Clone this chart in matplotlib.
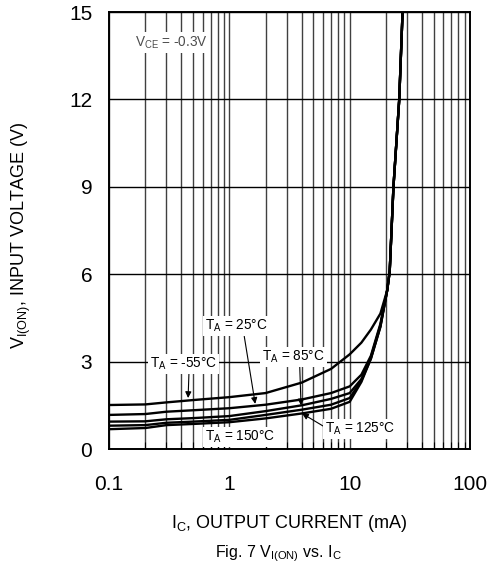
import numpy as np
import matplotlib
matplotlib.use("Agg")
import matplotlib.pyplot as plt
from matplotlib.ticker import LogLocator, NullFormatter

plt.rcParams['font.family'] = ['Liberation Sans', 'DejaVu Sans']
plt.rcParams['mathtext.fontset'] = 'custom'
plt.rcParams['mathtext.rm'] = 'Liberation Sans'
plt.rcParams['mathtext.it'] = 'Liberation Sans:italic'

# output current (mA), shared by all curves
ic = [0.1, 0.2, 0.3, 0.5, 1, 2, 4, 7, 10, 12.5, 15, 18, 20.5, 21.5, 23.1, 25.8, 27.5]

# input voltage V_I(ON) (V) per ambient temperature
v_m55 = [1.51, 1.53, 1.60, 1.68, 1.78, 1.92, 2.28, 2.75, 3.25, 3.65, 4.10, 4.65, 5.45, 6.1, 9, 12, 15]
v_25 = [1.17, 1.20, 1.28, 1.33, 1.40, 1.52, 1.70, 1.92, 2.15, 2.55, 3.20, 4.30, 5.45, 6.1, 9, 12, 15]
v_85 = [0.94, 0.95, 1.02, 1.06, 1.13, 1.30, 1.50, 1.72, 1.92, 2.40, 3.15, 4.25, 5.45, 6.1, 9, 12, 15]
v_125 = [0.80, 0.82, 0.90, 0.94, 1.00, 1.17, 1.35, 1.52, 1.75, 2.35, 3.10, 4.20, 5.45, 6.1, 9, 12, 15]
v_150 = [0.68, 0.72, 0.82, 0.86, 0.92, 1.05, 1.22, 1.38, 1.62, 2.30, 3.10, 4.20, 5.45, 6.1, 9, 12, 15]

x_ticks = [0.1, 1, 10, 100]
x_tick_labels = ["0.1", "1", "10", "100"]
y_ticks = [0, 3, 6, 9, 12, 15]

fig = plt.figure(figsize=(5.01, 5.64), dpi=100)
ax = fig.add_axes([0.2176, 0.2039, 0.7206, 0.7748])

for v in [v_m55, v_25, v_85, v_125, v_150]:
    ax.plot(ic, v, color='black', lw=1.7, zorder=3)

ax.set_xscale('log')
ax.set_xlim(0.1, 100)
ax.set_ylim(0, 15)
ax.set_xticks(x_ticks)
ax.set_xticklabels(x_tick_labels)
ax.xaxis.set_minor_locator(LogLocator(base=10, subs=np.arange(2, 10)))
ax.xaxis.set_minor_formatter(NullFormatter())
ax.set_yticks(y_ticks)

ax.grid(True, which='both', axis='x', color='0.25', lw=1.0)
ax.grid(True, which='major', axis='y', color='black', lw=1.0)

ax.tick_params(axis='both', which='both', direction='in', labelsize=15)
ax.tick_params(axis='x', which='major', length=0, pad=19)
ax.tick_params(axis='x', which='minor', length=5, width=0.8)
ax.tick_params(axis='y', which='major', length=0, pad=12)
for s in ax.spines.values():
    s.set_linewidth(1.4)

ax.set_xlabel(r"I$_\mathrm{C}$, OUTPUT CURRENT (mA)", fontsize=13)
ax.xaxis.set_label_coords(0.5, -0.146)
ax.set_ylabel(r"V$_\mathrm{I(ON)}$, INPUT VOLTAGE (V)", fontsize=13)
ax.yaxis.set_label_coords(-0.21, 0.49)

fig.text(0.555, 0.012, r"Fig. 7 V$_\mathrm{I(ON)}$ vs. I$_\mathrm{C}$", ha='center', fontsize=11.5)

box = dict(facecolor='white', edgecolor='none', pad=1.5)
arrow = dict(arrowstyle='-|>', color='black', lw=0.8, mutation_scale=9, shrinkA=0, shrinkB=0)
fs = 9.8

ax.text(0.165, 13.95, r"V$_\mathrm{CE}$ = -0.3V", fontsize=fs, va='center', color='0.3', bbox=box, zorder=4)
ax.annotate(r"T$_\mathrm{A}$ = 25°C", xy=(1.64, 1.55), xytext=(0.628, 4.22), fontsize=fs,
            va='center', bbox=box, zorder=4,
            arrowprops=dict(arrow, relpos=(0.62, 0.0)))
ax.annotate(r"T$_\mathrm{A}$ = -55°C", xy=(0.454, 1.75), xytext=(0.219, 2.92), fontsize=fs,
            va='center', bbox=box, zorder=4,
            arrowprops=dict(arrow, relpos=(0.58, 0.0)))
ax.annotate(r"T$_\mathrm{A}$ = 85°C", xy=(3.94, 1.50), xytext=(1.87, 3.16), fontsize=fs,
            va='center', bbox=box, zorder=4,
            arrowprops=dict(arrow, relpos=(0.6, 0.0)))
ax.annotate(r"T$_\mathrm{A}$ = 125°C", xy=(4.02, 1.22), xytext=(6.25, 0.69), fontsize=fs,
            va='center', bbox=box, zorder=4,
            arrowprops=dict(arrow, relpos=(0.0, 0.6)))
ax.text(0.628, 0.41, r"T$_\mathrm{A}$ = 150°C", fontsize=fs, va='center', bbox=box, zorder=4)

fig.savefig("out.png", dpi=100)
